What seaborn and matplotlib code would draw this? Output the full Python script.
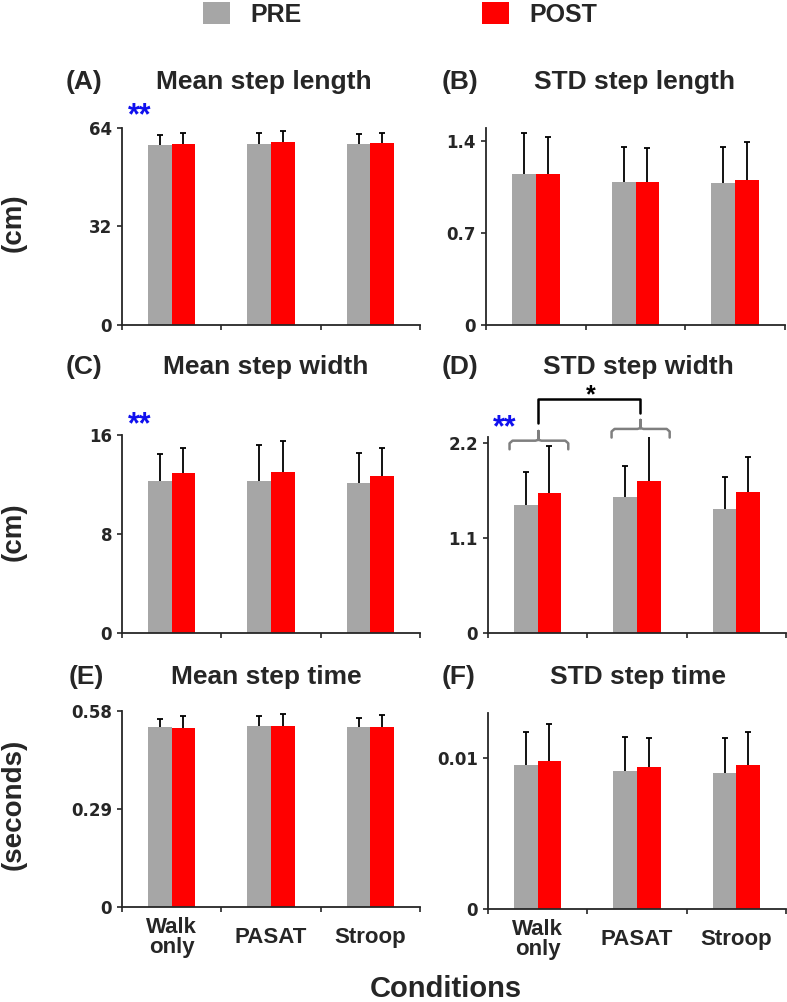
import numpy as np
import pandas as pd
import matplotlib
matplotlib.use("Agg")
import matplotlib.pyplot as plt
from matplotlib.patches import Patch
import seaborn as sns

# ---------------- data ----------------
conditions = ["Walk only", "PASAT", "Stroop"]
tick_labels = ["Walk\nonly", "PASAT", "Stroop"]
phases = ["PRE", "POST"]

mean_len_pre = [58.4, 58.8, 58.7]
mean_len_post = [58.8, 59.5, 59.1]
mean_len_pre_sd = [3.1, 3.6, 3.2]
mean_len_post_sd = [3.6, 3.3, 3.3]

std_len_pre = [1.149, 1.084, 1.076]
std_len_post = [1.149, 1.084, 1.101]
std_len_pre_sd = [0.307, 0.270, 0.278]
std_len_post_sd = [0.279, 0.263, 0.291]

mean_wid_pre = [12.30, 12.30, 12.09]
mean_wid_post = [12.90, 13.03, 12.66]
mean_wid_pre_sd = [2.16, 2.86, 2.45]
mean_wid_post_sd = [2.02, 2.51, 2.26]

std_wid_pre = [1.489, 1.578, 1.443]
std_wid_post = [1.628, 1.767, 1.636]
std_wid_pre_sd = [0.375, 0.363, 0.367]
std_wid_post_sd = [0.544, 0.533, 0.405]

mean_time_pre = [0.531, 0.535, 0.533]
mean_time_post = [0.529, 0.535, 0.533]
mean_time_pre_sd = [0.025, 0.029, 0.026]
mean_time_post_sd = [0.035, 0.036, 0.033]

std_time_pre = [0.00958, 0.00916, 0.00905]
std_time_post = [0.00983, 0.00945, 0.00954]
std_time_pre_sd = [0.00218, 0.00228, 0.00229]
std_time_post_sd = [0.00248, 0.00193, 0.00222]

panel_titles = ["Mean step length", "STD step length", "Mean step width",
                "STD step width", "Mean step time", "STD step time"]
panel_letters = ["(A)", "(B)", "(C)", "(D)", "(E)", "(F)"]
y_ticks = [[0, 32, 64], [0, 0.7, 1.4], [0, 8, 16], [0, 1.1, 2.2],
           [0, 0.29, 0.58], [0, 0.01]]
y_ticklabels = [["0", "32", "64"], ["0", "0.7", "1.4"], ["0", "8", "16"],
                ["0", "1.1", "2.2"], ["0", "0.29", "0.58"], ["0", "0.01"]]
y_top = [64, 1.494, 16, 2.276, 0.58, 0.01304]
row_ylabels = ["(cm)", "(cm)", "(seconds)"]

panels = [
    (mean_len_pre, mean_len_post, mean_len_pre_sd, mean_len_post_sd),
    (std_len_pre, std_len_post, std_len_pre_sd, std_len_post_sd),
    (mean_wid_pre, mean_wid_post, mean_wid_pre_sd, mean_wid_post_sd),
    (std_wid_pre, std_wid_post, std_wid_pre_sd, std_wid_post_sd),
    (mean_time_pre, mean_time_post, mean_time_pre_sd, mean_time_post_sd),
    (std_time_pre, std_time_post, std_time_pre_sd, std_time_post_sd),
]

# ---------------- style ----------------
sns.set_style("ticks")
plt.rcParams["font.family"] = ["Liberation Sans", "DejaVu Sans"]
plt.rcParams["font.weight"] = "bold"
plt.rcParams["axes.linewidth"] = 1.3

GRAY = "#a6a6a6"
RED = "#ff0000"
palette = {"PRE": GRAY, "POST": RED}

W, H = 787, 1002
fig = plt.figure(figsize=(W / 100, H / 100), dpi=100)

# axes boxes in pixels: left, right, top, bottom
boxes = [
    (122, 420, 127.7, 325.0),
    (486, 785, 128.3, 325.0),
    (122, 420, 435.0, 632.7),
    (488, 786, 436.7, 633.3),
    (122, 420, 710.7, 907.3),
    (488, 786, 712.7, 908.7),
]

axes = []
for i, (vals, box) in enumerate(zip(panels, boxes)):
    pre, post, pre_sd, post_sd = vals
    l, r, t, b = box
    ax = fig.add_axes([l / W, 1 - b / H, (r - l) / W, (b - t) / H])
    df = pd.DataFrame({
        "condition": conditions * 2,
        "phase": ["PRE"] * 3 + ["POST"] * 3,
        "value": list(pre) + list(post),
    })
    sns.barplot(data=df, x="condition", y="value", hue="phase",
                order=conditions, hue_order=phases, palette=palette,
                width=0.475, errorbar=None, legend=False, ax=ax,
                saturation=1, linewidth=0)
    for cont, sd in zip(ax.containers, [pre_sd, post_sd]):
        xs = [p.get_x() + p.get_width() / 2 for p in cont]
        hs = [p.get_height() for p in cont]
        eb = ax.errorbar(xs, hs, yerr=[np.zeros(len(sd)), sd], fmt="none",
                         ecolor="black", elinewidth=1.3, capsize=2.2,
                         capthick=1.3, zorder=3)
        # keep only the upper cap
        caps = eb[1]
        if len(caps) == 2:
            caps[0].set_visible(False)
    ax.set_xlim(-0.5, 2.5)
    ax.set_ylim(0, y_top[i])
    sns.despine(ax=ax)
    ax.set_xlabel("")
    ax.set_ylabel("")
    ax.set_yticks(y_ticks[i])
    ax.set_yticklabels(y_ticklabels[i], fontfamily="DejaVu Sans",
                       fontweight="bold", fontsize=12)
    ax.tick_params(axis="y", direction="out", length=3.6, width=1.2, pad=3.6)
    ax.set_xticks([-0.5, 0.5, 1.5, 2.5])
    ax.set_xticklabels([])
    ax.tick_params(axis="x", which="major", direction="out", length=3.6,
                   width=1.2)
    ax.set_xticks([0, 1, 2], minor=True)
    if i >= 4:
        ax.set_xticklabels(tick_labels, minor=True, fontsize=16,
                           fontweight="bold", linespacing=0.95)
        for lab in ax.get_xticklabels(minor=True):
            lab.set_verticalalignment("center")
        ax.tick_params(axis="x", which="minor", length=0, pad=22)
    else:
        ax.tick_params(axis="x", which="minor", length=0)
    axes.append(ax)

# ---------------- titles ----------------
title_base = [89, 89, 374, 374, 684, 684]
title_cx = [264, 634, 266, 638, 266, 638]
letter_x = [66, 442, 66, 442, 69, 442]
for i in range(6):
    fig.text(title_cx[i] / W, 1 - title_base[i] / H, panel_titles[i],
             ha="center", va="baseline", fontsize=19, fontweight="bold")
    fig.text(letter_x[i] / W, 1 - title_base[i] / H, panel_letters[i],
             ha="left", va="baseline", fontsize=19, fontweight="bold")

# row y labels
ylab_cy = [223, 532, 804]
for lab, cy in zip(row_ylabels, ylab_cy):
    fig.text(14 / W, 1 - cy / H, lab, rotation=90, ha="center", va="center",
             fontsize=20, fontweight="bold")

fig.text(446 / W, 1 - 997 / H, "Conditions", ha="center", va="baseline",
         fontsize=21, fontweight="bold")

# ---------------- significance marks ----------------
for ax, (fx, fy) in [(axes[0], (0.06, 1.06)), (axes[2], (0.06, 1.05))]:
    ax.text(fx, fy, "**", transform=ax.transAxes, color="#1010ee",
            fontsize=22, fontweight="bold", ha="center", va="center",
            clip_on=False)

axD = axes[3]
axD.text(-0.337, 2.37, "**", color="#1010ee", fontsize=22,
         fontweight="bold", ha="center", va="center", clip_on=False)

brace_col = "#7f7f7f"
def brace(ax, x0, x1, xm, y, ydrop, ytip):
    xs = [x0, x0, x0 + 0.03, xm - 0.03, xm, xm, xm, xm + 0.03, x1 - 0.03, x1, x1]
    ys = [y - ydrop, y - 0.03, y, y, y + 0.01, ytip, y + 0.01, y, y, y - 0.03, y - ydrop]
    ax.plot(xs, ys, color=brace_col, lw=1.8, clip_on=False, zorder=4,
            solid_joinstyle="round")

brace(axD, -0.283, 0.308, 0.0075, 2.230, 0.10, 2.342)
brace(axD, 0.744, 1.329, 1.035, 2.366, 0.10, 2.470)
axD.plot([0.0075, 0.0075, 1.035, 1.035], [2.432, 2.709, 2.709, 2.547],
         color="black", lw=1.8, clip_on=False, zorder=4)
axD.text(0.536, 2.76, "*", color="black", fontsize=18, fontweight="bold",
         ha="center", va="center", clip_on=False)

# ---------------- legend ----------------
handles = [Patch(facecolor=palette[p], edgecolor="none", label=p) for p in phases]
fig.legend(handles=handles, loc="upper left",
           bbox_to_anchor=(200 / W, 1 - 0 / H), ncol=2, frameon=False,
           prop={"weight": "bold", "size": 18},
           handlelength=1.08, handleheight=0.92, handletextpad=0.84,
           columnspacing=7.2, borderpad=0.1, borderaxespad=0)

fig.savefig("out.png", dpi=100)
